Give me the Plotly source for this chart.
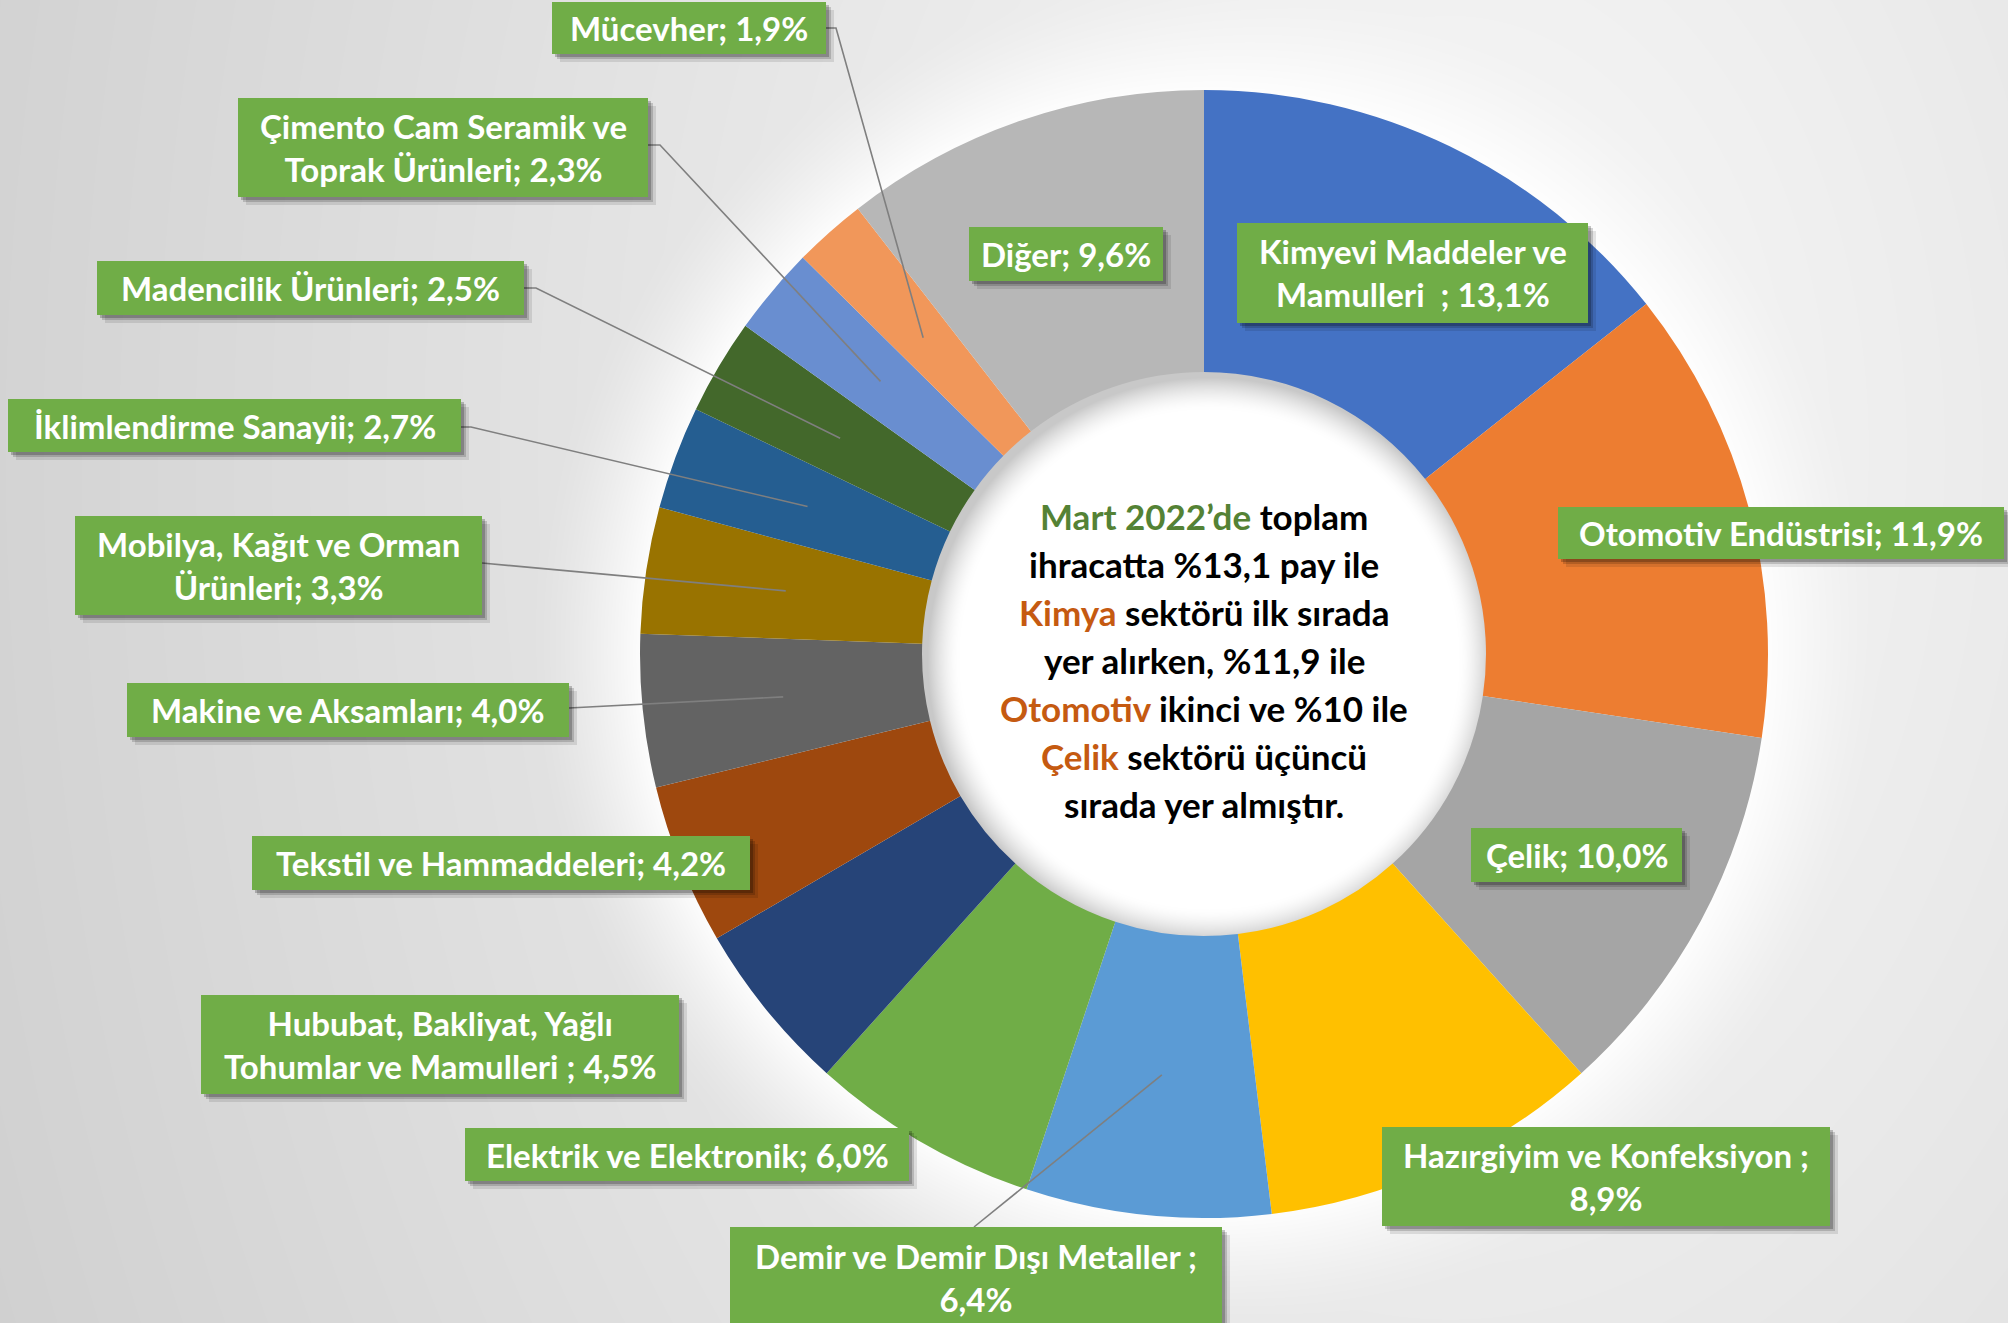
import math, zlib, struct, base64
import numpy as np
import plotly.graph_objects as go

W, H = 2008, 1323

# ---------------- data ----------------
sectors = [
    "Kimyevi Maddeler ve Mamulleri", "Otomotiv Endüstrisi", "Çelik",
    "Hazırgiyim ve Konfeksiyon", "Demir ve Demir Dışı Metaller",
    "Elektrik ve Elektronik", "Hububat, Bakliyat, Yağlı Tohumlar ve Mamulleri",
    "Tekstil ve Hammaddeleri", "Makine ve Aksamları",
    "Mobilya, Kağıt ve Orman Ürünleri", "İklimlendirme Sanayii",
    "Madencilik Ürünleri", "Çimento Cam Seramik ve Toprak Ürünleri",
    "Mücevher", "Diğer",
]
shares = [13.1, 11.9, 10.0, 8.9, 6.4, 6.0, 4.5, 4.2, 4.0, 3.3, 2.7, 2.5, 2.3, 1.9, 9.6]
# label text templates ({v} = formatted share)
label_templates = [
    "Kimyevi Maddeler ve<br>Mamulleri\u00a0 ; {v}",
    "Otomotiv Endüstrisi; {v}",
    "Çelik; {v}",
    "Hazırgiyim ve Konfeksiyon ;<br>{v}",
    "Demir ve Demir Dışı Metaller ;<br>{v}",
    "Elektrik ve Elektronik; {v}",
    "Hububat, Bakliyat, Yağlı<br>Tohumlar ve Mamulleri ; {v}",
    "Tekstil ve Hammaddeleri; {v}",
    "Makine ve Aksamları; {v}",
    "Mobilya, Kağıt ve Orman<br>Ürünleri; {v}",
    "İklimlendirme Sanayii; {v}",
    "Madencilik Ürünleri; {v}",
    "Çimento Cam Seramik ve<br>Toprak Ürünleri; {v}",
    "Mücevher; {v}",
    "Diğer; {v}",
]
colors = ["#4472C4", "#ED7D31", "#A5A5A5", "#FFC000", "#5B9BD5", "#70AD47",
          "#264478", "#9E480E", "#636363", "#997300", "#255E91", "#43682B",
          "#698ED0", "#F1975A", "#B7B7B7"]

center_lines = [
    "<span style='color:#548235'>Mart 2022’de</span> toplam",
    "ihracatta %13,1 pay ile",
    "<span style='color:#C55A11'>Kimya</span> sektörü ilk sırada",
    "yer alırken, %11,9 ile",
    "<span style='color:#C55A11'>Otomotiv</span> ikinci ve %10 ile",
    "<span style='color:#C55A11'>Çelik</span> sektörü üçüncü",
    "sırada yer almıştır.",
]

# ---------------- layout (pixels) ----------------
CX, CY, R_OUT, R_IN = 1204, 654, 564, 282
# label boxes: x0, y0, x1, y1 (pixels from top-left)
boxes = [
    (1237, 223, 1588, 323),
    (1558, 507, 2004, 559),
    (1471, 828, 1682, 882),
    (1382, 1127, 1830, 1226),
    (730, 1227, 1222, 1330),
    (465, 1128, 909, 1181),
    (201, 995, 679, 1094),
    (252, 836, 750, 890),
    (127, 683, 569, 737),
    (75, 516, 482, 615),
    (8, 399, 461, 452),
    (97, 261, 524, 315),
    (238, 98, 648, 197),
    (552, 2, 826, 54),
    (969, 227, 1163, 281),
]
# leader start: (x, y, stub_length) or None
leaders = [None, None, None, None, (974, 1227, 0), None, None, None,
           (569, 708, 0), (482, 563, 0), (461, 427, 10), (524, 288, 12),
           (648, 145, 12), (826, 28, 10), None]


def fmt(v):
    return f"{v:.1f}".replace(".", ",") + "%"


def px(x):
    return x / W


def py(y):
    return 1 - y / H


# ---------------- background image (gradient + glow + hole shadow) ----------------
yy, xx = np.mgrid[0:H, 0:W].astype(float)
d = np.sqrt((xx - 1450) ** 2 + ((yy - 450) * 0.7) ** 2)
v = 250 - 0.0263 * d
r = np.sqrt((xx - CX) ** 2 + (yy - CY) ** 2)
glow = np.clip(1 - (r - R_OUT) / 110, 0, 1) ** 1.5
v = v + (255 - v) * glow * 0.9
rs = np.sqrt((xx - CX - 5) ** 2 + (yy - CY - 5) ** 2)
inner = r < R_IN + 2
shade = np.clip(1 - (R_IN - rs) / 32, 0, 1) ** 1.6
v = np.where(inner, 255 - 55 * shade, v)
img = np.clip(v, 0, 255).astype(np.uint8)


def png_gray(arr):
    h, w = arr.shape
    raw = b"".join(b"\x00" + arr[i].tobytes() for i in range(h))

    def chunk(t, dd):
        c = struct.pack(">I", len(dd)) + t + dd
        return c + struct.pack(">I", zlib.crc32(t + dd) & 0xFFFFFFFF)

    return (b"\x89PNG\r\n\x1a\n"
            + chunk(b"IHDR", struct.pack(">IIBBBBB", w, h, 8, 0, 0, 0, 0))
            + chunk(b"IDAT", zlib.compress(raw, 9))
            + chunk(b"IEND", b""))


bg_src = "data:image/png;base64," + base64.b64encode(png_gray(img)).decode()

# ---------------- figure ----------------
fig = go.Figure()
fig.add_trace(go.Pie(
    labels=sectors, values=shares, sort=False, direction="clockwise",
    rotation=0, hole=R_IN / R_OUT, textinfo="none", hoverinfo="label+percent",
    marker=dict(colors=colors, line=dict(width=0)), showlegend=False,
    domain=dict(x=[px(CX - R_OUT), px(CX + R_OUT)],
                y=[py(CY + R_OUT), py(CY - R_OUT)]),
))

shapes = []
annotations = []
total = sum(shares)
cum = 0.0
R_MID = (R_IN + R_OUT) / 2
for i, val in enumerate(shares):
    mid = (cum + val / 2) / total * 2 * math.pi
    cum += val
    ex = CX + R_MID * math.sin(mid)
    ey = CY - R_MID * math.cos(mid)
    if leaders[i] is not None:
        lx, ly, stub = leaders[i]
        path = f"M {px(lx)} {py(ly)} L {px(lx + stub)} {py(ly)} L {px(ex)} {py(ey)}"
        shapes.append(dict(type="path", path=path, xref="paper", yref="paper",
                           line=dict(color="#7F7F7F", width=1.6), layer="above"))

for i, (x0, y0, x1, y1) in enumerate(boxes):
    for off, a in ((8, 0.10), (5, 0.16), (3, 0.22)):
        shapes.append(dict(type="rect", xref="paper", yref="paper",
                           x0=px(x0 + off), x1=px(x1 + off), y0=py(y0 + off), y1=py(y1 + off),
                           fillcolor=f"rgba(0,0,0,{a})", line=dict(width=0), layer="above"))
    shapes.append(dict(type="rect", xref="paper", yref="paper",
                       x0=px(x0), x1=px(x1), y0=py(y0), y1=py(y1),
                       fillcolor="#70AD47", line=dict(width=0), layer="above"))
    ty = (y0 + y1) / 2
    if i == 4:
        ty = 1277
    annotations.append(dict(
        x=px((x0 + x1) / 2), y=py(ty), xref="paper", yref="paper",
        text=label_templates[i].format(v=fmt(shares[i])), showarrow=False,
        xanchor="center", yanchor="middle", align="center",
        font=dict(family="Lato", size=33, color="white", weight="bold"),
    ))

for j, line in enumerate(center_lines):
    annotations.append(dict(
        x=px(CX), y=py(516 + 48 * j), xref="paper", yref="paper", text=line,
        showarrow=False, xanchor="center", yanchor="middle",
        font=dict(family="Lato", size=35, color="#000000", weight="bold"),
    ))

fig.update_layout(
    width=W, height=H, margin=dict(l=0, r=0, t=0, b=0),
    paper_bgcolor="#e6e6e6", plot_bgcolor="rgba(0,0,0,0)",
    images=[dict(source=bg_src, xref="paper", yref="paper", x=0, y=1,
                 sizex=1, sizey=1, sizing="stretch", xanchor="left",
                 yanchor="top", layer="below")],
    shapes=shapes, annotations=annotations,
)

fig.write_html(
    "out.html",
    config={"displayModeBar": False},
    post_script="document.body.style.margin='0px';document.body.style.overflow='hidden';",
)
